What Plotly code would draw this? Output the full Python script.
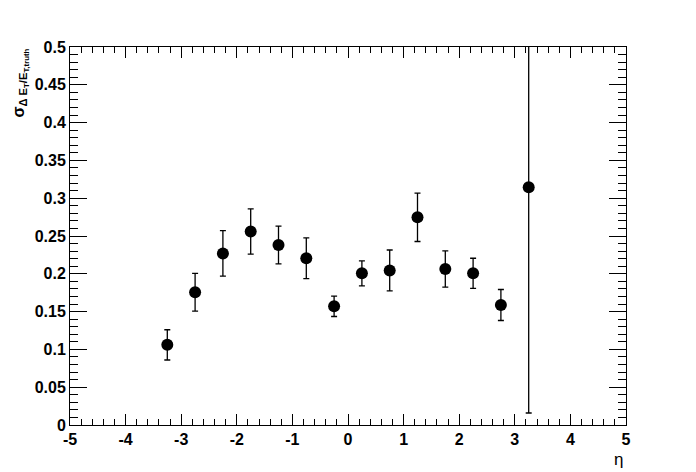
import plotly.graph_objects as go

eta = [-3.25, -2.75, -2.25, -1.75, -1.25, -0.75, -0.25, 0.25, 0.75, 1.25, 1.75, 2.25, 2.75, 3.25]
sigma = [0.106, 0.1755, 0.227, 0.256, 0.238, 0.2205, 0.157, 0.2006, 0.2045, 0.2747, 0.2063, 0.2006, 0.1587, 0.3144]
err = [0.020, 0.025, 0.030, 0.030, 0.025, 0.027, 0.0135, 0.0165, 0.027, 0.032, 0.024, 0.020, 0.0205, 0.2985]

x_ticks = [-5, -4, -3, -2, -1, 0, 1, 2, 3, 4, 5]
y_ticks = [0, 0.05, 0.1, 0.15, 0.2, 0.25, 0.3, 0.35, 0.4, 0.45, 0.5]
y_ticktext = ["0", "0.05", "0.1", "0.15", "0.2", "0.25", "0.3", "0.35", "0.4", "0.45", "0.5"]

font = dict(family="Liberation Sans, Arial, sans-serif", size=16, color="black", weight="bold")

fig = go.Figure()
fig.add_trace(go.Scatter(
    x=eta, y=sigma, mode="markers",
    marker=dict(symbol="circle", size=12, color="black"),
    error_y=dict(type="data", array=err, visible=True, color="black", thickness=1.3, width=3),
    showlegend=False,
))

# page body has an 8px margin; compensate so the frame sits where the reference has it
fig.update_layout(
    width=696, height=472,
    margin=dict(l=61.5, r=78, t=39, b=55, autoexpand=False),
    paper_bgcolor="white", plot_bgcolor="white",
    font=font,
)
fig.update_xaxes(
    range=[-5, 5], tickvals=x_ticks, ticktext=[str(v) for v in x_ticks],
    ticks="inside", ticklen=11, tickwidth=1, tickcolor="black",
    minor=dict(dtick=0.2, tick0=-5, ticks="inside", ticklen=6, tickwidth=1, tickcolor="black"),
    showline=True, linecolor="black", linewidth=1, mirror="ticks",
    showgrid=False, zeroline=False, tickfont=font,
)
fig.update_yaxes(
    range=[0, 0.5], tickvals=y_ticks, ticktext=y_ticktext,
    ticks="inside", ticklen=17, tickwidth=1, tickcolor="black",
    minor=dict(dtick=0.01, tick0=0, ticks="inside", ticklen=8, tickwidth=1, tickcolor="black"),
    showline=True, linecolor="black", linewidth=1, mirror="ticks",
    showgrid=False, zeroline=False, tickfont=font,
)

fig.add_annotation(
    text="η", xref="paper", yref="paper", x=1, y=0, xanchor="right", yanchor="top",
    xshift=-1, yshift=-23, showarrow=False,
    font=dict(family="Liberation Sans, Arial, sans-serif", size=17, color="black", weight="normal"),
)
fig.add_annotation(
    text="σ<sub>Δ E<sub>T</sub>/E<sub>T,truth</sub></sub>",
    xref="paper", yref="paper", x=0, y=1, xanchor="center", yanchor="top",
    xshift=-50, textangle=-90, showarrow=False,
    font=dict(family="Liberation Sans, Arial, sans-serif", size=16, color="black", weight="bold"),
)

fig.write_html("out.html")
